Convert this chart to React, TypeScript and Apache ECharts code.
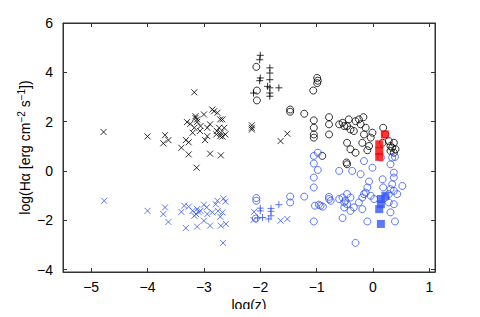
import React, { useEffect, useRef } from "react";
import * as echarts from "echarts";

const xTicks = [-5, -4, -3, -2, -1, 0, 1];
const yTicks = [-4, -2, 0, 2, 4, 6];

const blackCross: number[][] = [
  [-4.78, 1.58], [-4.0, 1.4], [-3.69, 1.45], [-3.72, 1.12], [-3.63, 1.25], [-3.17, 3.19],
  [-3.15, 2.22], [-3.3, 1.98], [-3.24, 1.91], [-3.2, 1.55], [-3.32, 1.25], [-3.27, 1.16],
  [-3.4, 0.94], [-3.27, 0.67], [-3.13, 0.13], [-3.0, 2.29], [-3.06, 1.82], [-2.94, 1.75],
  [-2.98, 1.25], [-2.89, 1.89], [-2.89, 0.7], [-2.85, 2.49], [-2.82, 2.42], [-2.76, 2.36],
  [-2.71, 2.09], [-2.67, 2.09], [-2.73, 1.75], [-2.64, 1.75], [-2.7, 1.55], [-2.62, 1.48],
  [-2.71, 1.41], [-2.67, 1.39], [-2.77, 1.62], [-2.7, 0.63], [-2.78, 1.48], [-2.94, 1.41],
  [-3.07, 1.62], [-3.12, 2.09], [-3.17, 1.75], [-3.15, 2.15], [-3.12, 1.99], [-2.15, 1.85],
  [-2.15, 1.75], [-2.15, 1.68], [-1.64, 1.21], [-1.52, 1.51]
];

const blackPlus: number[][] = [
  [-2.0, 4.69], [-2.01, 4.51], [-1.83, 4.18], [-1.83, 3.97], [-2.0, 3.77], [-2.01, 3.66],
  [-1.83, 3.7], [-1.87, 3.43], [-1.83, 3.37], [-1.83, 3.16], [-1.83, 3.03], [-1.67, 3.37],
  [-2.12, 3.16]
];

const blackCircle: number[][] = [
  [-2.07, 4.22], [-2.06, 3.26], [-2.06, 2.86], [-0.99, 3.77], [-0.98, 3.66], [-0.99, 3.56],
  [-1.06, 3.26], [-1.47, 2.49], [-1.47, 2.4], [-1.22, 2.32], [-1.05, 2.05], [-1.05, 1.75],
  [-1.05, 1.48], [-1.05, 1.35], [-0.78, 2.18], [-0.78, 1.89], [-0.78, 1.48], [-0.9, 0.61],
  [-0.6, 1.89], [-0.54, 1.95], [-0.51, 1.82], [-0.46, 1.82], [-0.4, 1.68], [-0.34, 1.62],
  [-0.43, 2.09], [-0.31, 2.02], [-0.25, 2.09], [-0.17, 2.18], [-0.22, 1.89], [-0.13, 1.75],
  [-0.01, 1.55], [-0.16, 1.48], [-0.04, 1.35], [-0.19, 1.14], [-0.46, 1.14], [-0.4, 0.88],
  [-0.31, 0.74], [-0.47, 0.34], [-0.46, 0.27], [-0.1, 0.84], [-0.07, 1.01], [0.18, 1.75],
  [0.22, 1.48], [0.28, 1.21], [0.37, 1.14], [0.31, 1.01], [0.34, 0.94], [0.4, 0.88],
  [0.31, 0.81], [0.37, 0.74], [0.17, 1.14]
];

const redSquare: number[][] = [
  [0.21, 1.48], [0.11, 1.08], [0.11, 0.81], [0.11, 0.57]
];

const blueCross: number[][] = [
  [-4.77, -1.21], [-4.0, -1.62], [-3.69, -1.48], [-3.72, -1.75], [-3.63, -2.07], [-3.4, -1.66],
  [-3.32, -2.32], [-3.35, -1.41], [-3.27, -1.45], [-3.2, -1.62], [-3.14, -1.75], [-3.12, -2.26],
  [-3.12, -1.55], [-3.06, -1.62], [-3.0, -1.37], [-2.95, -1.48], [-2.94, -1.75], [-3.0, -2.02],
  [-2.89, -2.22], [-2.85, -1.68], [-2.79, -1.35], [-2.75, -1.62], [-2.71, -1.86], [-2.7, -2.22],
  [-2.67, -1.68], [-2.65, -1.12], [-2.62, -1.24], [-2.61, -2.15], [-2.66, -2.92], [-2.76, -1.21],
  [-3.17, -1.82], [-3.09, -1.68], [-2.11, -1.66], [-2.12, -1.99], [-1.52, -1.95], [-1.64, -2.02]
];

const bluePlus: number[][] = [
  [-2.0, -1.51], [-2.0, -1.62], [-1.81, -1.52], [-1.81, -1.64], [-1.81, -1.82], [-1.85, -1.95],
  [-1.67, -1.37], [-1.96, -1.89], [-2.05, -1.91]
];

const blueCircle: number[][] = [
  [-2.07, -1.1], [-2.07, -1.21], [-2.08, -1.93], [-1.47, -1.04], [-1.47, -1.28], [-1.22, -1.04],
  [-1.05, -0.67], [-1.03, -1.41], [-1.05, -2.05], [-0.98, 0.74], [-1.05, 0.61], [-1.05, 0.3],
  [-0.98, 0.04], [-1.05, -0.27], [-0.96, -1.37], [-0.89, -1.45], [-0.78, -1.05], [-0.78, -1.14],
  [-0.6, -1.14], [-0.6, 0.0], [-0.37, 0.0], [-0.22, -0.13], [-0.01, 0.13], [-0.16, 0.4],
  [-0.07, -0.43], [-0.1, -0.67], [-0.1, -2.05], [-0.31, -2.92], [-0.54, -1.08], [-0.49, -1.21],
  [-0.51, -1.48], [-0.46, -1.35], [-0.54, -1.91], [-0.4, -1.62], [-0.34, -1.48], [-0.25, -1.28],
  [-0.19, -1.08], [-0.16, -0.94], [-0.13, -0.88], [-0.19, -1.55], [-0.04, -1.01], [0.02, -1.14],
  [0.17, -0.34], [0.18, -0.67], [0.22, -1.08], [0.28, -0.94], [0.31, -0.74], [0.34, -0.54],
  [0.37, -0.07], [0.37, -0.27], [0.34, 0.54], [0.39, 0.57], [0.31, 0.27], [0.43, -0.94],
  [0.52, -0.61], [0.37, -1.35], [0.31, -1.68], [0.39, -2.05], [0.28, -1.28], [-0.46, -0.94],
  [-0.51, -1.28], [-0.4, -1.08], [-0.93, -1.41], [-0.75, -1.21], [0.14, 0.54], [0.37, -0.81]
];

const blueSquare: number[][] = [
  [0.14, -1.14], [0.14, -1.35], [0.11, -1.55], [0.22, -1.01], [0.14, -2.15]
];

const BLACK = "#000000";
const BLUE = "#3456f8";
const RED = "#ff0000";
const CROSS = "path://M0,0L10,10M10,0L0,10";
const PLUS = "path://M5,0L5,10M0,5L10,5";
const FONT = "Liberation Sans";
const AXIS = "#333333";

const minusFmt = (v: number) => String(v).replace("-", "\u2212");
const emptyFmt = () => "";

function strokeSeries(data: number[][], symbol: string, size: number, color: string, z: number) {
  return {
    type: "scatter",
    data,
    symbol,
    symbolSize: size,
    z,
    itemStyle: { color: "rgba(0,0,0,0)", borderColor: color, borderWidth: 1 },
    emphasis: { disabled: true }
  };
}

function fillSeries(data: number[][], size: number, color: string, z: number) {
  return {
    type: "scatter",
    data,
    symbol: "rect",
    symbolSize: size,
    z,
    itemStyle: { color },
    emphasis: { disabled: true }
  };
}

export default function App() {
  const ref = useRef<HTMLDivElement>(null);
  useEffect(() => {
    if (!ref.current) return;
    const chart = echarts.init(ref.current, undefined, { renderer: "svg" });
    chart.setOption({
      animation: false,
      grid: {
        left: 63, right: 45, top: 23, bottom: 42,
        show: true, borderColor: AXIS, borderWidth: 1, backgroundColor: "rgba(0,0,0,0)"
      },
      xAxis: [
        {
          type: "value",
          min: -5.5,
          max: 1.1,
          position: "bottom",
          splitLine: { show: false },
          axisLine: { show: true, onZero: false, lineStyle: { color: AXIS, width: 1 } },
          axisTick: { show: true, inside: true, length: 4, customValues: xTicks, lineStyle: { color: AXIS } },
          name: "log(z)",
          nameLocation: "middle",
          nameGap: 26,
          nameMoveOverlap: false,
          nameTextStyle: { fontSize: 14, color: "#000", fontFamily: FONT },
          axisLabel: {
            customValues: xTicks,
            formatter: minusFmt,
            fontSize: 14,
            color: "#000",
            margin: 8,
            fontFamily: FONT
          }
        },
        {
          type: "value",
          min: -5.5,
          max: 1.1,
          position: "top",
          splitLine: { show: false },
          axisLine: { show: true, onZero: false, lineStyle: { color: AXIS, width: 1 } },
          axisTick: { show: true, inside: true, length: 4, customValues: xTicks, lineStyle: { color: AXIS } },
          axisLabel: { show: true, customValues: xTicks, formatter: emptyFmt }
        }
      ],
      yAxis: [
        {
          type: "value",
          min: -4.1,
          max: 6,
          position: "left",
          splitLine: { show: false },
          axisLine: { show: true, onZero: false, lineStyle: { color: AXIS, width: 1 } },
          axisTick: { show: true, inside: true, length: 4, customValues: yTicks, lineStyle: { color: AXIS } },
          name: "log(H\u03b1 [erg cm{s|\u22122} s{s|\u22121}])",
          nameLocation: "middle",
          nameGap: 30,
          nameMoveOverlap: false,
          nameRotate: 90,
          nameTextStyle: {
            fontSize: 14,
            color: "#000",
            fontFamily: FONT,
            rich: {
              s: { fontSize: 10, color: "#000", fontFamily: FONT, padding: [0, 0, 7, 0] }
            }
          },
          axisLabel: {
            customValues: yTicks,
            formatter: minusFmt,
            fontSize: 14,
            color: "#000",
            margin: 10,
            fontFamily: FONT
          }
        },
        {
          type: "value",
          min: -4.1,
          max: 6,
          position: "right",
          splitLine: { show: false },
          axisLine: { show: true, onZero: false, lineStyle: { color: AXIS, width: 1 } },
          axisTick: { show: true, inside: true, length: 4, customValues: yTicks, lineStyle: { color: AXIS } },
          axisLabel: { show: true, customValues: yTicks, formatter: emptyFmt }
        }
      ],
      series: [
        strokeSeries(blackCross, CROSS, 6, BLACK, 2),
        strokeSeries(blueCross, CROSS, 6, BLUE, 2),
        strokeSeries(blackPlus, PLUS, 7, BLACK, 3),
        strokeSeries(bluePlus, PLUS, 7, BLUE, 3),
        strokeSeries(blackCircle, "circle", 7, BLACK, 4),
        strokeSeries(blueCircle, "circle", 7, BLUE, 4),
        fillSeries(redSquare, 8, RED, 5),
        fillSeries(blueSquare, 8, BLUE, 5)
      ]
    });
    return () => chart.dispose();
  }, []);
  return (
    <div style={{ margin: -8 }}>
      <div ref={ref} style={{ width: 480, height: 317 }} />
    </div>
  );
}
